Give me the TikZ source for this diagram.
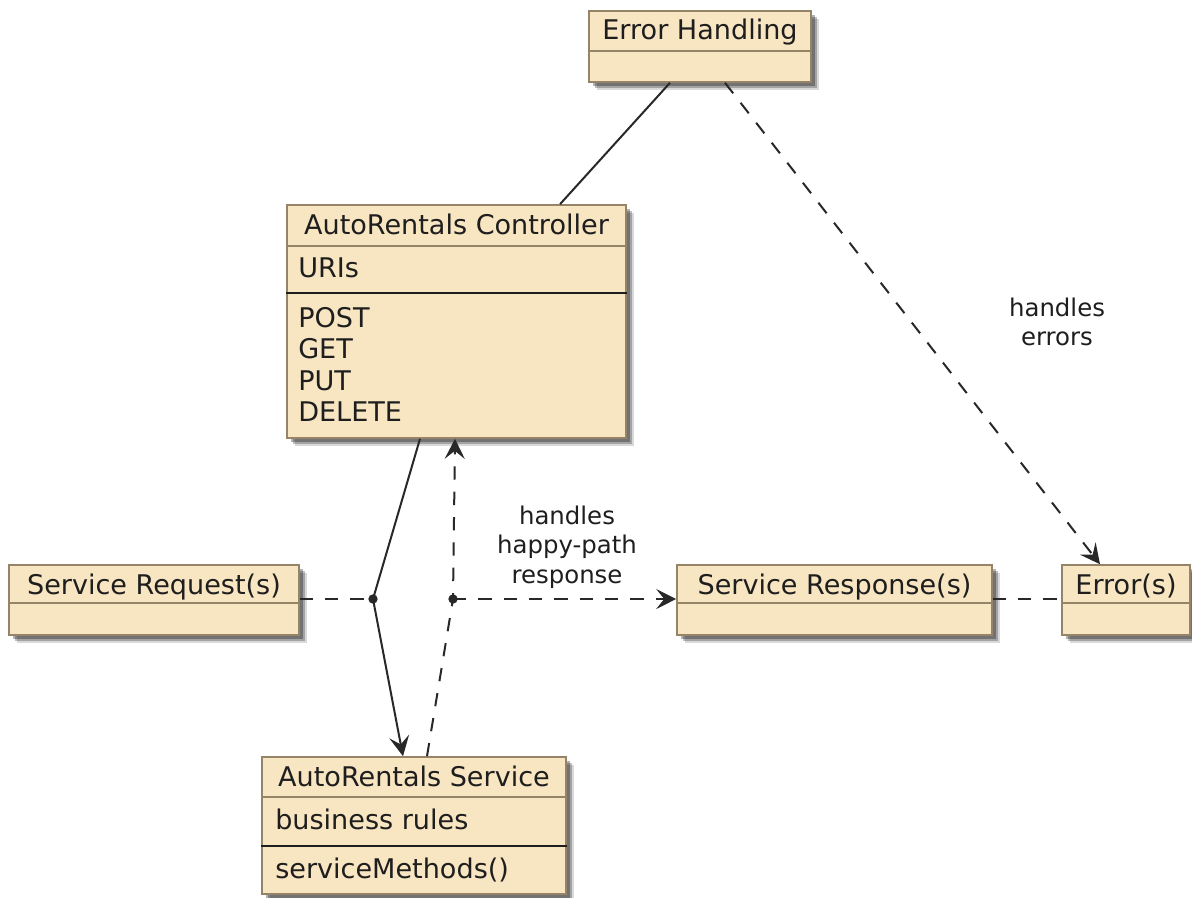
\documentclass[tikz,border=0pt]{standalone}
\usepackage{fontspec}
\setmainfont{DejaVu Sans}
\usepackage{xcolor}
\usetikzlibrary{calc,shadows,arrows.meta}
\definecolor{ClassFill}{RGB}{248, 229, 193}
\definecolor{ClassBorder}{RGB}{150, 132, 104}
\definecolor{LinkInk}{RGB}{40, 40, 40}
\definecolor{TextInk}{RGB}{30, 30, 30}

\tikzset{
  classbox/.style={draw=ClassBorder, line width=1.2pt, fill=ClassFill, inner sep=0pt,
    drop shadow={shadow xshift=6pt, shadow yshift=-6pt, fill=black, opacity=0.15},
    drop shadow={shadow xshift=4.5pt, shadow yshift=-4.5pt, fill=black, opacity=0.25},
    drop shadow={shadow xshift=3pt, shadow yshift=-3pt, fill=black, opacity=0.3}},
  hdrline/.style={draw=ClassBorder, line width=1.2pt},
  memline/.style={draw=TextInk, line width=1.2pt},
  titletext/.style={text=TextInk, inner sep=0pt, anchor=base, font=\fontsize{20.3}{24}\selectfont},
  membertext/.style={text=TextInk, inner sep=0pt, anchor=base west, font=\fontsize{20.3}{24}\selectfont},
  linktext/.style={text=TextInk, inner sep=0pt, align=center, font=\fontsize{18.3}{22.3}\selectfont},
  link/.style={draw=LinkInk, line width=1.5pt},
  dashlink/.style={link, dash pattern=on 10pt off 9pt},
  tip/.style={-{Stealth[length=15pt, width=15pt, inset=6pt]}}
}

\begin{document}
\begin{tikzpicture}[x=0.75pt, y=-0.75pt]
  \useasboundingbox (0,0) rectangle (1192,897);

  % class boxes
  \node[classbox, minimum width=166.5pt, minimum height=53.25pt] (errHandling) at (700,46.5) {};
  \node[classbox, minimum width=254.25pt, minimum height=174.75pt] (ctrl) at (456.5,321.5) {};
  \node[classbox, minimum width=217.5pt, minimum height=52.5pt] (svcRequest) at (154,600) {};
  \node[classbox, minimum width=236.25pt, minimum height=52.5pt] (svcResponse) at (834.5,600) {};
  \node[classbox, minimum width=96pt, minimum height=52.5pt] (errors) at (1126,600) {};
  \node[classbox, minimum width=228pt, minimum height=102.75pt] (svc) at (414,825.5) {};

  % compartments
  \draw[hdrline] (errHandling.west |- 0,51) -- (errHandling.east |- 0,51);
  \draw[hdrline] (ctrl.west |- 0,246) -- (ctrl.east |- 0,246);
  \draw[memline] (ctrl.west |- 0,293) -- (ctrl.east |- 0,293);
  \draw[hdrline] (svcRequest.west |- 0,603) -- (svcRequest.east |- 0,603);
  \draw[hdrline] (svcResponse.west |- 0,603) -- (svcResponse.east |- 0,603);
  \draw[hdrline] (errors.west |- 0,603) -- (errors.east |- 0,603);
  \draw[hdrline] (svc.west |- 0,797) -- (svc.east |- 0,797);
  \draw[memline] (svc.west |- 0,846) -- (svc.east |- 0,846);

  % texts
  \node[titletext] (errHandlingTitle) at (700,39.5) {Error Handling};
  \node[titletext] (ctrlTitle) at (456.5,234.5) {AutoRentals Controller};
  \node[membertext] (ctrlUris) at (298,277.5) {URIs};
  \foreach \verb [count=\i] in {POST,GET,PUT,DELETE}
    \node[membertext] (ctrlVerb\i) at (298,{327+31.6*(\i-1)}) {\verb};
  \node[titletext] (svcRequestTitle) at (154,594) {Service Request(s)};
  \node[titletext] (svcResponseTitle) at (834.5,594) {Service Response(s)};
  \node[titletext] (errorsTitle) at (1126,594) {Error(s)};
  \node[titletext] (svcTitle) at (414,786) {AutoRentals Service};
  \node[membertext] (svcRules) at (275,829) {business rules};
  \node[membertext] (svcMethods) at (275,878) {serviceMethods()};

  % association points
  \coordinate (reqDot) at (373,599);
  \coordinate (respDot) at (453,599);

  % links
  \draw[link] ($(errHandling.south)+(-30,0)$) -- ($(ctrl.north)+(103.5,0)$);
  \draw[dashlink, tip] ($(errHandling.south)+(25,0)$) -- ($(errors.north)+(-26,0)$);
  \draw[link, tip] ($(ctrl.south)+(-36.5,0)$) -- (reqDot) -- ($(svc.north)+(-11,0)$);
  \draw[dashlink, tip] ($(svc.north)+(13,0)$) -- (respDot) -- ($(ctrl.south)+(-1.5,0)$);
  \draw[dashlink] (svcRequest.east |- reqDot) -- (reqDot);
  \draw[dashlink, tip] (respDot) -- (svcResponse.west |- respDot);
  \draw[dashlink] (svcResponse.east |- respDot) -- (errors.west |- respDot);
  \fill[LinkInk] (reqDot) circle (3.5pt);
  \fill[LinkInk] (respDot) circle (3.5pt);

  % link labels
  \node[linktext] (happyLabel) at (567,547) {handles\\happy-path\\response};
  \node[linktext] (errLabel) at (1057,322) {handles\\errors};
\end{tikzpicture}
\end{document}
